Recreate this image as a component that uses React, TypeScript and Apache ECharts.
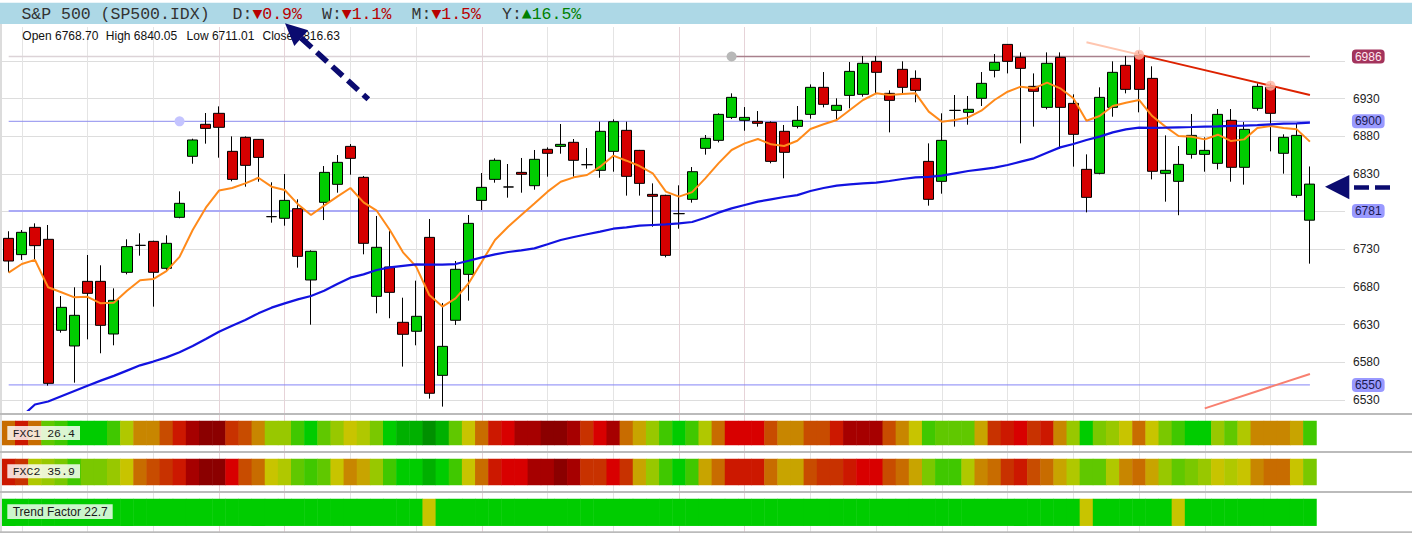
import React, { useEffect, useRef } from "react";
import * as echarts from "echarts";

// ---------- DATA ----------
const categories = Array.from({ length: 100 }, (_, i) => String(i + 1));

const opens = [
  6744.6, 6723, 6759.2, 6743.3, 6622.5, 6601.7, 6687.5, 6687.5, 6617.6, 6699.5,
  6735.3, 6740.6, 6704.8, 6772.5, 6853.5, 6896, 6910.6, 6860.1, 6878.7, 6876,
  6773.4, 6771.2, 6784, 6689.3, 6792.4, 6816.3, 6866.7, 6825.6, 6667.6, 6706.6,
  6633.1, 6621.2, 6745.9, 6562.7, 6635.8, 6696.8, 6795, 6822.9, 6812.8, 6832.2,
  6814.5, 6862.8, 6866.7, 6872.1, 6842.4, 6834.9, 6860.1, 6888, 6861.4, 6803,
  6801.7, 6777.4, 6796.4, 6864.1, 6874.7, 6905.2, 6901.3, 6899.9, 6898.6, 6886.7,
  6893.3, 6909.2, 6945.1, 6914.5, 6934.4, 6935.8, 6979.6, 6937.1, 6969, 6957,
  6846.8, 6820.3, 6914.5, 6911.9, 6930.5, 6967.6, 7002.1, 6984.9, 6946.4, 6918.5,
  6984.9, 6923.8, 6836.2, 6830.9, 6918.5, 6974.3, 6987.5, 6957, 6830.9, 6820.3,
  6856.1, 6856.1, 6844.2, 6901.3, 6838.9, 6917.2, 6945.1, 6857.5, 6801.7, 6768.7,
];
const closes = [
  6714.5, 6752.6, 6734.9, 6552.1, 6653, 6642.4, 6671.6, 6629.1, 6662.3, 6733.6,
  6735.3, 6699.5, 6738, 6791.1, 6875.2, 6890.6, 6892, 6822.9, 6841.5, 6852.1,
  6773.4, 6795, 6720.7, 6727.4, 6832.2, 6845.5, 6850.8, 6738, 6732.7, 6672.9,
  6617.2, 6641.1, 6538.9, 6601.2, 6703.5, 6764.5, 6812.3, 6848.2, 6812.8, 6829.6,
  6849.5, 6857.5, 6869.4, 6848.2, 6842.4, 6886.7, 6899.5, 6826.9, 6817.6, 6800.4,
  6722, 6777.4, 6833.1, 6877.4, 6909.2, 6931.8, 6905.2, 6897.3, 6846.8, 6858.8,
  6901.3, 6945.1, 6922.5, 6921.2, 6966.3, 6977, 6965, 6927.8, 6945.1, 6941.1,
  6796.4, 6874.7, 6914.5, 6915.9, 6950.4, 6978.3, 6979.6, 6970.3, 6939.8, 6977,
  6918.5, 6882.7, 6799, 6931.8, 6965, 6942.4, 6942.4, 6833.6, 6834.9, 6842.8,
  6881.3, 6861.4, 6909.2, 6838.9, 6889.3, 6946.4, 6910.6, 6878.7, 6881.3, 6816.63,
];
const lows = [
  6699.5, 6715.9, 6715.9, 6549, 6619.4, 6553, 6610.5, 6592, 6602.6, 6696.8,
  6721.6, 6653.9, 6701.7, 6771.2, 6843.7, 6870.3, 6851.7, 6820.3, 6813.2, 6819.8,
  6765.4, 6761.4, 6705.7, 6630, 6768.9, 6805.2, 6829.1, 6723.4, 6645.1, 6638.5,
  6574.3, 6602.6, 6531.8, 6521.2, 6629.6, 6661.9, 6782.2, 6818.5, 6798.6, 6805.2,
  6809.2, 6826.5, 6857, 6826.5, 6837.1, 6825.1, 6833.1, 6801.3, 6801.3, 6760.1,
  6719.4, 6757.4, 6792, 6855.7, 6872, 6903, 6887.5, 6892.9, 6844.2, 6824.3,
  6890.6, 6903.5, 6918.5, 6902.6, 6917.2, 6932.7, 6937.1, 6885.3, 6937.1, 6925.2,
  6788, 6803.9, 6892.9, 6895.5, 6920.3, 6958.3, 6963.6, 6870.7, 6892.9, 6915.9,
  6863.6, 6839.8, 6779.1, 6829.6, 6906.1, 6937.1, 6911.9, 6822.9, 6793.3, 6775.3,
  6850.4, 6833.1, 6836.2, 6819.8, 6815.9, 6914.1, 6860.1, 6830.5, 6798.6, 6711.01,
];
const highs = [
  6754, 6755.7, 6764.5, 6762.3, 6668, 6679.6, 6722.5, 6708.8, 6678.2, 6743.3,
  6751.3, 6741.5, 6748.6, 6807, 6876.9, 6911, 6919.8, 6880, 6880, 6876.5,
  6819, 6830, 6796.4, 6728.7, 6840.6, 6855.2, 6869.8, 6827.4, 6774.3, 6754.8,
  6665.8, 6688.4, 6770.3, 6658.8, 6714.5, 6775.6, 6831.3, 6850.8, 6843.3, 6851.3,
  6861.9, 6865.4, 6896.4, 6876.5, 6864.5, 6899.5, 6902.6, 6899.5, 6862, 6817.6,
  6802.5, 6815, 6839.3, 6881.8, 6910.6, 6937.1, 6918.9, 6913.6, 6899.9, 6895.1,
  6920.3, 6949, 6965.4, 6930.5, 6978.7, 6986.7, 6986.7, 6941.1, 6979.6, 6967.6,
  6870.7, 6910.6, 6934.9, 6933.6, 6965.4, 6989.3, 7002.5, 6991.5, 6963.6, 6991.5,
  6991.5, 6935.8, 6856.1, 6945.1, 6979.6, 6986.7, 6992.9, 6973, 6881.3, 6867.2,
  6909.7, 6878.7, 6916.3, 6916.3, 6899, 6950.4, 6950.4, 6882.7, 6897.3, 6840.05,
];

const maFast = [
  6699, 6710.5, 6716, 6679.6, 6673, 6666.3, 6667, 6658.3, 6659, 6675,
  6689, 6690.6, 6701, 6720, 6755.7, 6785.3, 6808, 6811.4, 6817.6, 6825,
  6813.2, 6808.8, 6790, 6775.6, 6788, 6800, 6811.4, 6792.4, 6781.3, 6755.7,
  6726, 6707, 6669.4, 6654, 6665, 6685, 6713.6, 6742.4, 6760, 6775.6,
  6791, 6806.6, 6819.8, 6825.6, 6828.7, 6839.8, 6854.4, 6847.7, 6840.6, 6831,
  6806.6, 6800, 6806, 6824.3, 6844.2, 6861.9, 6870.7, 6876.5, 6869.4, 6867.2,
  6874.2, 6889.8, 6896, 6901.7, 6915, 6928.3, 6937.1, 6934.9, 6936.3, 6937.1,
  6912.8, 6899.5, 6901.7, 6905.2, 6914.1, 6928.3, 6939.3, 6946, 6943.8, 6951.3,
  6943.8, 6930.5, 6900.8, 6907, 6920.3, 6924.7, 6928.3, 6907, 6892.9, 6880.5,
  6879.6, 6876, 6882.2, 6873.8, 6876, 6891.1, 6893.8, 6891.1, 6889.3, 6873,
];
const maSlow = [
  null, 6508, 6524, 6528, 6535, 6542, 6549, 6555.7, 6562, 6569,
  6576, 6581, 6586.6, 6593.3, 6601.7, 6611, 6620.7, 6628.5, 6636.2, 6645,
  6652.6, 6658.3, 6663.6, 6668, 6675, 6684, 6692.4, 6696.8, 6702.6, 6706,
  6708, 6710, 6709.7, 6709.7, 6710.5, 6714.8, 6719.4, 6723.4, 6726.5, 6728.7,
  6731.3, 6736.7, 6742.4, 6746.4, 6750, 6753.5, 6757.4, 6759.2, 6761.4, 6762.3,
  6763.2, 6764.5, 6766.3, 6772, 6778.7, 6784.4, 6788.9, 6793.3, 6796.4, 6799.5,
  6802, 6807.4, 6811.4, 6814.5, 6816.3, 6817.6, 6818.5, 6820.7, 6823.4, 6825.6,
  6826.3, 6827.8, 6830.9, 6834, 6836.2, 6838.4, 6842, 6846.4, 6850.8, 6858.3,
  6865.4, 6869.8, 6875.2, 6879.6, 6885.3, 6889.3, 6891.5, 6891.3, 6891.5, 6892,
  6892.4, 6892.9, 6893.3, 6893.8, 6894.2, 6895, 6896, 6896.8, 6897.3, 6898.2,
];

// horizontal levels: value, starting candle index
const levelValues = [6986, 6900, 6781, 6550];
const levelStarts = [55, 0, 0, 0];

const trendFaded = [[82, 7005], [86, 6988.5]];
const trendRed = [[86, 6988.5], [99, 6934.9]];
const supportLine = [[91, 6518.8], [99, 6564.5]];
const pivotDots = [[13, 6900], [55, 6986], [86, 6988.5], [96, 6947.3]];

const yTickMin = 6530;
const yTickMax = 6980;
const yTickStep = 50;

const headerTitle = "S&P 500 (SP500.IDX)";
const periodNames = ["D", "W", "M", "Y"];
const periodChanges = [-0.9, -1.1, -1.5, 16.5];

const ohlcNames = ["Open", "High", "Low", "Close"];

const stripNames = ["FXC1", "FXC2", "Trend Factor"];
const stripScores = [26.4, 35.9, 22.7];

// heat levels 0 (deep red) .. 17 (deep green)
const fxc1 = [
  6, 2, 6, 13, 14, 15, 15, 15, 14, 10,
  7, 7, 5, 2, 1, 0, 0, 4, 5, 7,
  11, 11, 14, 15, 13, 11, 9, 10, 12, 15,
  16, 16, 17, 16, 13, 9, 6, 2, 3, 1,
  1, 0, 0, 1, 4, 3, 1, 6, 8, 11,
  14, 15, 14, 10, 6, 3, 3, 3, 5, 7,
  7, 5, 5, 2, 1, 1, 1, 5, 7, 9,
  14, 13, 13, 13, 8, 4, 2, 3, 4, 2,
  7, 11, 15, 12, 11, 9, 6, 9, 12, 14,
  15, 15, 11, 13, 10, 7, 7, 7, 8, 14,
];
const fxc2 = [
  2, 4, 10, 11, 12, 14, 12, 12, 11, 9,
  6, 5, 4, 2, 1, 0, 0, 3, 5, 6,
  9, 10, 13, 14, 13, 9, 7, 8, 11, 14,
  15, 15, 16, 15, 14, 9, 6, 2, 3, 3,
  1, 1, 0, 1, 4, 4, 3, 4, 8, 11,
  14, 15, 14, 8, 6, 2, 2, 2, 6, 8,
  8, 5, 4, 4, 2, 3, 3, 5, 6, 8,
  12, 14, 14, 10, 7, 6, 4, 2, 5, 6,
  8, 10, 13, 13, 10, 7, 6, 8, 11, 13,
  12, 11, 9, 10, 9, 7, 6, 6, 9, 12,
];
const trendFactor = [
  15, 15, 15, 15, 15, 15, 15, 15, 15, 15,
  15, 15, 15, 15, 15, 15, 15, 15, 15, 15,
  15, 15, 15, 15, 15, 15, 15, 15, 15, 15,
  15, 15, 9, 15, 15, 15, 15, 15, 15, 15,
  15, 15, 15, 15, 15, 15, 15, 15, 15, 15,
  15, 15, 15, 15, 15, 15, 15, 15, 15, 15,
  15, 15, 15, 15, 15, 15, 15, 15, 15, 15,
  15, 15, 15, 15, 15, 15, 15, 15, 15, 15,
  15, 15, 9, 15, 15, 15, 15, 15, 15, 9,
  15, 15, 15, 15, 15, 15, 15, 15, 15, 15,
];

// ---------- STYLE ----------
const heatPalette = [
  "#8b0000", "#a60000", "#cc1800", "#d80000", "#c83200", "#c84c00",
  "#c86c00", "#c88600", "#c8a400", "#c8c400", "#b0c800", "#98c800",
  "#7ac800", "#60c800", "#40c800", "#00cc00", "#00b000", "#009000",
];
const vLineColors = [
  "#e4e4e4", "#e4e4e4", "#e4e4e4", "#e6d3d8", "#e6d3d8",
  "#e4e4e4", "#e4e4e4", "#e6d3d8", "#e4e4e4", "#e4e4e4",
  "#e6d3d8", "#e6d3d8", "#e4e4e4", "#e4e4e4", "#e4e4e4",
  "#e4e4e4", "#e4e4e4", "#e4e4e4", "#e4e4e4", "#e4e4e4",
];
const dotColors = ["#c4c4ff", "#b8b8b8", "#ffb4a0", "#ffb4a0"];

const N = categories.length;
const CELL = 13.144;
const XL = 2.1;
const SANS = "'Liberation Sans', Arial, sans-serif";
const MONO = "'Liberation Mono', 'Courier New', 'DejaVu Sans Mono', monospace";
const NAVY = "#0b0b70";

function buildOption() {
  const grids = [
    { left: XL + CELL / 2, top: 27, width: CELL * (N - 1), height: 506 },
    { left: 2, top: 61.04, width: 1343, height: 338.96 },
    { left: XL, top: 27, width: CELL * N, height: 383 },
    { left: XL, top: 421, width: CELL * N, height: 24 },
    { left: XL, top: 459, width: CELL * N, height: 26 },
    { left: XL, top: 499, width: CELL * N, height: 26.7 },
  ].map((g) => ({ ...g, outerBoundsMode: "none" }));

  const hiddenCat = (gi: number) => ({
    type: "category",
    gridIndex: gi,
    data: categories,
    show: false,
  });

  const xAxis: any[] = [
    {
      type: "category",
      gridIndex: 0,
      data: categories,
      boundaryGap: false,
      axisLine: { show: false },
      axisTick: { show: false },
      axisLabel: { show: false },
      splitLine: {
        show: true,
        interval: (index: number) => index % 5 === 1,
        lineStyle: { color: vLineColors, width: 1 },
      },
    },
    { type: "value", gridIndex: 1, min: 0, max: 1, show: false },
    hiddenCat(2),
    hiddenCat(3),
    hiddenCat(4),
    hiddenCat(5),
  ];

  const yAxis: any[] = [
    { type: "value", gridIndex: 0, show: false },
    {
      type: "value",
      gridIndex: 1,
      min: yTickMin,
      max: yTickMax,
      interval: yTickStep,
      position: "right",
      axisLine: { show: false },
      axisTick: { show: false },
      axisLabel: {
        margin: 8,
        color: "#222",
        fontSize: 12,
        fontFamily: SANS,
        formatter: (v: number) => (v === yTickMax ? "" : String(v)),
      },
      splitLine: { show: true, lineStyle: { color: "#dddddd", width: 1 } },
    },
    { type: "value", gridIndex: 2, min: 6516.7, max: 7025.2, show: false },
    { type: "category", gridIndex: 3, data: ["v"], show: false },
    { type: "category", gridIndex: 4, data: ["v"], show: false },
    { type: "category", gridIndex: 5, data: ["v"], show: false },
  ];

  const levelStyles = [
    { color: "#a8808c", width: 1.5, bg: "#a3335c", fg: "#ffe6ef" },
    { color: "#8c8cee", width: 1, bg: "#9999ff", fg: "#1a1a50" },
    { color: "#aaaaf6", width: 2, bg: "#9999ff", fg: "#1a1a50" },
    { color: "#8585f6", width: 1, bg: "#9999ff", fg: "#1a1a50" },
  ];

  const lineSeries = (data: any[], color: string, width: number, z = 3, extra: any = {}) => ({
    type: "line",
    xAxisIndex: 2,
    yAxisIndex: 2,
    data,
    symbol: "none",
    z,
    silent: true,
    emphasis: { disabled: true },
    lineStyle: { color, width },
    itemStyle: { color },
    ...extra,
  });

  const series: any[] = [];

  // light part of the 6986 level
  series.push(
    lineSeries([[0, levelValues[0]], [levelStarts[0], levelValues[0]]], "#dcd3d7", 1.5, 1)
  );
  levelValues.forEach((v, i) => {
    const s = levelStyles[i];
    series.push(
      lineSeries([[levelStarts[i], v], [N - 1, v]], s.color, s.width, 1, {
        endLabel: {
          show: true,
          distance: 42,
          formatter: () => String(v),
          backgroundColor: s.bg,
          color: s.fg,
          padding: [1, 3, 1, 3],
          borderRadius: 4,
          fontSize: 12,
          fontFamily: SANS,
        },
      })
    );
  });

  series.push({
    type: "candlestick",
    xAxisIndex: 2,
    yAxisIndex: 2,
    barWidth: 10.6,
    z: 2,
    data: opens.map((o, i) => [o, closes[i], lows[i], highs[i]]),
    itemStyle: {
      color: "#00cc00",
      color0: "#d50000",
      borderColor: "#000",
      borderColor0: "#000",
      borderColorDoji: "#000",
      borderWidth: 1,
    },
  });
  series.push(lineSeries(maFast, "#ff8a1a", 2));
  series.push(lineSeries(maSlow, "#1212e0", 2.2));
  series.push(lineSeries(trendFaded, "#ffc6b0", 2));
  series.push(lineSeries(trendRed, "#dd2200", 2));
  series.push(lineSeries(supportLine, "#f88070", 2));
  series.push({
    type: "scatter",
    xAxisIndex: 2,
    yAxisIndex: 2,
    symbolSize: 10,
    z: 4,
    silent: true,
    data: pivotDots.map((p, i) => ({
      value: p,
      itemStyle: { color: dotColors[i], opacity: i >= 2 ? 0.8 : 1 },
    })),
  });

  const heatStart = series.length;
  [fxc1, fxc2, trendFactor].forEach((d, k) => {
    series.push({
      type: "heatmap",
      xAxisIndex: 3 + k,
      yAxisIndex: 3 + k,
      data: d.map((v, i) => [i, 0, v]),
      itemStyle: { borderWidth: 0 },
      emphasis: { disabled: true },
      silent: true,
    });
  });

  // ---------- graphic chrome ----------
  const g: any[] = [];
  g.push({ type: "rect", shape: { x: 0, y: 2.7, width: 1412, height: 21.3 }, style: { fill: "#add8e6" } });
  g.push({ type: "line", shape: { x1: 1, y1: 24, x2: 1, y2: 533 }, style: { stroke: "#d0d0d0", lineWidth: 1.5 } });
  const txt = (text: string, x: number, y: number, font: string, fill: string) => ({
    type: "text",
    x,
    y,
    style: { text, font, fill, align: "left", verticalAlign: "middle", textAlign: "left", textVerticalAlign: "middle" },
  });
  const monoFont = `16.5px ${MONO}`;
  g.push(txt(headerTitle, 21.4, 14, monoFont, "#333"));
  const periodX = [232.6, 322, 411.6, 502];
  periodNames.forEach((p, i) => {
    const v = periodChanges[i];
    g.push(txt(p + ":", periodX[i], 14, monoFont, "#333"));
    g.push(
      txt((v < 0 ? "\u25BC" : "\u25B2") + Math.abs(v).toFixed(1) + "%", periodX[i] + 19.8, 14, monoFont, v < 0 ? "#b80000" : "#008000")
    );
  });
  const ohlcVals = [opens[N - 1], highs[N - 1], lows[N - 1], closes[N - 1]];
  const ohlcX = [22.3, 105.8, 186.6, 262.5];
  ohlcNames.forEach((n, i) => {
    g.push(txt(`${n} ${ohlcVals[i].toFixed(2)}`, ohlcX[i], 35.5, `12px ${SANS}`, "#111"));
  });

  // separators
  [414, 452, 492, 532.3].forEach((y) => {
    g.push({ type: "line", shape: { x1: 0, y1: y, x2: 1412, y2: y }, style: { stroke: "#bbbbbb", lineWidth: 2.2 } });
  });

  // strip labels
  const stripBoxes = [
    { y: 426, h: 14, w: 72.7, font: `11.5px ${MONO}`, bg: "rgba(255,255,255,0.82)" },
    { y: 464.3, h: 14, w: 72.7, font: `11.5px ${MONO}`, bg: "rgba(255,255,255,0.82)" },
    { y: 504.3, h: 14.7, w: 105.4, font: `12px ${SANS}`, bg: "rgba(255,255,255,0.8)" },
  ];
  stripNames.forEach((n, i) => {
    const b = stripBoxes[i];
    g.push({ type: "rect", shape: { x: 7.3, y: b.y, width: b.w, height: b.h }, style: { fill: b.bg } });
    g.push(txt(`${n} ${stripScores[i].toFixed(1)}`, 12.7, b.y + b.h / 2 + 0.5, b.font, "#1a1a1a"));
  });

  // arrow 1 (to daily change)
  g.push({
    type: "line",
    shape: { x1: 301.3, y1: 38.1, x2: 368.3, y2: 99.3 },
    style: { stroke: NAVY, lineWidth: 5.5, lineDash: [14, 7] },
  });
  g.push({
    type: "polygon",
    shape: { points: [[285, 23.3], [308.2, 30.3], [294.3, 45.9]] },
    style: { fill: NAVY },
  });
  // arrow 2 (at right)
  g.push({
    type: "polygon",
    shape: { points: [[1325, 186.7], [1349.3, 175], [1349.3, 199.3]] },
    style: { fill: NAVY },
  });
  g.push({
    type: "line",
    shape: { x1: 1354, y1: 187.5, x2: 1390, y2: 187.5 },
    style: { stroke: NAVY, lineWidth: 4.5, lineDash: [15, 6] },
  });

  return {
    animation: false,
    backgroundColor: "#ffffff",
    textStyle: { fontFamily: SANS },
    grid: grids,
    xAxis,
    yAxis,
    visualMap: {
      type: "piecewise",
      show: false,
      dimension: 2,
      seriesIndex: [heatStart, heatStart + 1, heatStart + 2],
      pieces: heatPalette.map((c, i) => ({ value: i, color: c })),
    },
    series,
    graphic: { elements: g.map((e) => ({ ...e, z: 100, silent: true })) },
  };
}

export default function App() {
  const ref = useRef<HTMLDivElement>(null);
  useEffect(() => {
    document.body.style.margin = "0";
    if (!ref.current) return;
    const chart = echarts.init(ref.current, undefined, { renderer: "svg" });
    chart.setOption(buildOption() as any);
    return () => chart.dispose();
  }, []);
  return <div ref={ref} style={{ width: 1412, height: 533 }} />;
}
